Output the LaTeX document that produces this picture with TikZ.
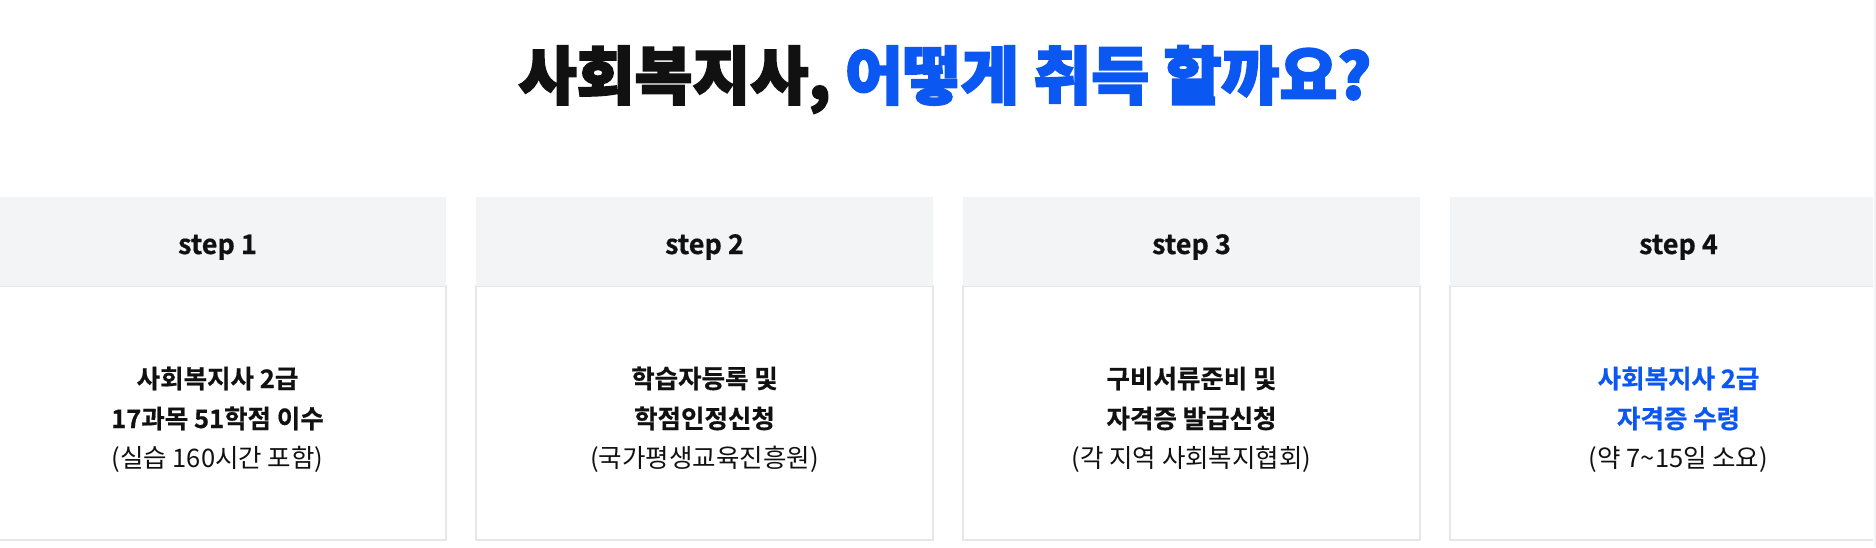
\documentclass[tikz,border=0pt]{standalone}
\usepackage{fontspec}
\setmainfont{Noto Sans CJK KR}
\newfontfamily\krfont{Noto Sans CJK KR}
\newfontfamily\krbold{Noto Sans CJK KR Bold}[FakeBold=0.6]
\newfontfamily\krblack{Noto Sans CJK KR Black}[FakeBold=3]
\definecolor{hdrgray}{HTML}{F3F4F6}
\definecolor{boxline}{HTML}{E6E7EA}
\definecolor{accent}{HTML}{0A57F2}
\definecolor{ink}{HTML}{111111}
\tikzset{
  hdrbox/.style={fill=hdrgray, draw=none},
  bodybox/.style={fill=white, draw=boxline, line width=1.2pt},
  steplabel/.style={anchor=base, text=ink, font=\krbold\fontsize{27}{30}\selectfont, inner sep=0pt},
  boldline/.style={anchor=base, text=ink, font=\krbold\fontsize{25.5}{28}\selectfont, inner sep=0pt},
  blueline/.style={boldline, text=accent},
  regline/.style={anchor=base, text=ink, font=\krfont\fontsize{25.5}{28}\selectfont, inner sep=0pt},
  titletext/.style={anchor=base, inner sep=0pt, font=\krblack\fontsize{63}{68}\selectfont}
}
\begin{document}
\begin{tikzpicture}[x=1pt, y={(0pt,-1pt)}]
\useasboundingbox (0,0) rectangle (1876,547);
\fill[white] (0,0) rectangle (1876,547);
\begin{scope}
\clip (0,0) rectangle (1873,547);
% boxes
\foreach \i/\xl in {1/-11, 2/476, 3/963, 4/1450} {
  \draw[bodybox] (\xl,286) rectangle ++(457,254);
  \fill[hdrbox] (\xl,197) rectangle ++(457,89);
}
\end{scope}
\fill[hdrgray] (1874,0) rectangle (1876,547);
% title
\node[titletext] (title) at (945,99) {\textcolor{ink}{사회복지사,} \textcolor{accent}{어떻게 취득 할까요?}};
% step labels
\node[steplabel] (s1) at (217.5,254) {step 1};
\node[steplabel] (s2) at (704.5,254) {step 2};
\node[steplabel] (s3) at (1191.5,254) {step 3};
\node[steplabel] (s4) at (1678.5,254) {step 4};
% step 1
\node[boldline] (a1) at (217.5,388) {사회복지사 2급};
\node[boldline] (a2) at (217.5,428) {17과목 51학점 이수};
\node[regline] (a3) at (217.5,467) {(실습 160시간 포함)};
% step 2
\node[boldline] (b1) at (704.5,388) {학습자등록 및};
\node[boldline] (b2) at (704.5,428) {학점인정신청};
\node[regline] (b3) at (704.5,467) {(국가평생교육진흥원)};
% step 3
\node[boldline] (c1) at (1191.5,388) {구비서류준비 및};
\node[boldline] (c2) at (1191.5,428) {자격증 발급신청};
\node[regline] (c3) at (1191.5,467) {(각 지역 사회복지협회)};
% step 4
\node[blueline] (d1) at (1678.5,388) {사회복지사 2급};
\node[blueline] (d2) at (1678.5,428) {자격증 수령};
\node[regline] (d3) at (1678.5,467) {(약 7\textasciitilde15일 소요)};
\end{tikzpicture}
\end{document}
